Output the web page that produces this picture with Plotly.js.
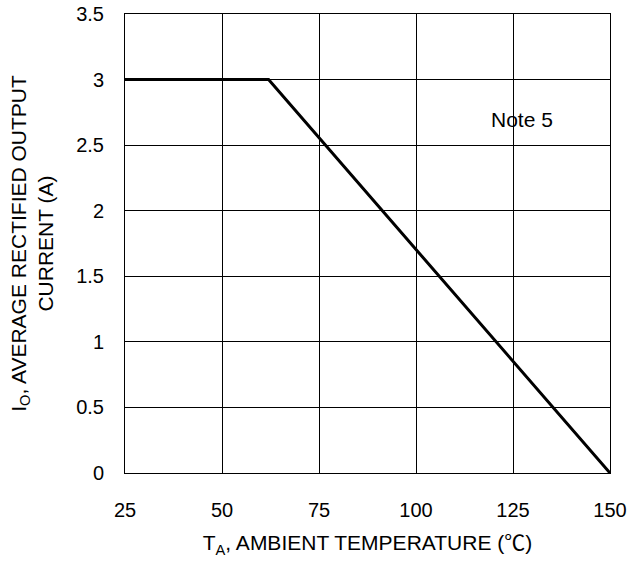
<!DOCTYPE html>
<html>
<head>
<meta charset="utf-8">
<script src="https://cdn.plot.ly/plotly-3.0.1.min.js"></script>
<style>html,body{margin:0;padding:0;background:#fff}#chart{width:629px;height:561px}</style>
</head>
<body>
<div id="chart"></div>
<script>
const temperature = [25, 62, 150];
const current = [3, 3, 0];
const xTicks = [25, 50, 75, 100, 125, 150];
const yTicks = [0, 0.5, 1, 1.5, 2, 2.5, 3, 3.5];
const yTickText = ['0', '0.5', '1', '1.5', '2', '2.5', '3', '3.5'];

const trace = {
  x: temperature, y: current, mode: 'lines', type: 'scatter',
  line: {color: '#000', width: 3}, hoverinfo: 'skip'
};
const fam = 'Liberation Sans, Arial, sans-serif';
const tickFont = {family: fam, size: 20, color: '#000'};
const titleFont = {family: fam, size: 21, color: '#000'};
const layout = {
  width: 629, height: 561,
  margin: {l: 125, r: 19, t: 14, b: 88},
  paper_bgcolor: '#fff', plot_bgcolor: '#fff',
  font: tickFont,
  showlegend: false,
  xaxis: {
    range: [25, 150], tickvals: xTicks, ticktext: xTicks.map(String),
    showgrid: true, gridcolor: '#000', gridwidth: 1,
    showline: true, linecolor: '#000', linewidth: 1, mirror: true,
    zeroline: false, ticks: '', ticklabelstandoff: 19,
    tickfont: tickFont,
    title: {text: 'T<sub>A</sub>, AMBIENT TEMPERATURE (<span style="font-family:\'Noto Sans CJK JP\'">℃</span>)', font: titleFont, standoff: 15}
  },
  yaxis: {
    range: [0, 3.5], tickvals: yTicks, ticktext: yTickText,
    showgrid: true, gridcolor: '#000', gridwidth: 1,
    showline: true, linecolor: '#000', linewidth: 1, mirror: true,
    zeroline: false, ticks: '', ticklabelstandoff: 16,
    tickfont: tickFont,
    title: {text: 'I<sub>O</sub>, AVERAGE RECTIFIED OUTPUT<br>CURRENT (A)', font: titleFont, standoff: 16}
  },
  annotations: [{
    x: 127.3, y: 2.695, xref: 'x', yref: 'y', text: 'Note 5', showarrow: false,
    font: {family: fam, size: 21, color: '#000'}
  }]
};
Plotly.newPlot('chart', [trace], layout, {displayModeBar: false, staticPlot: true});
</script>
</body>
</html>
